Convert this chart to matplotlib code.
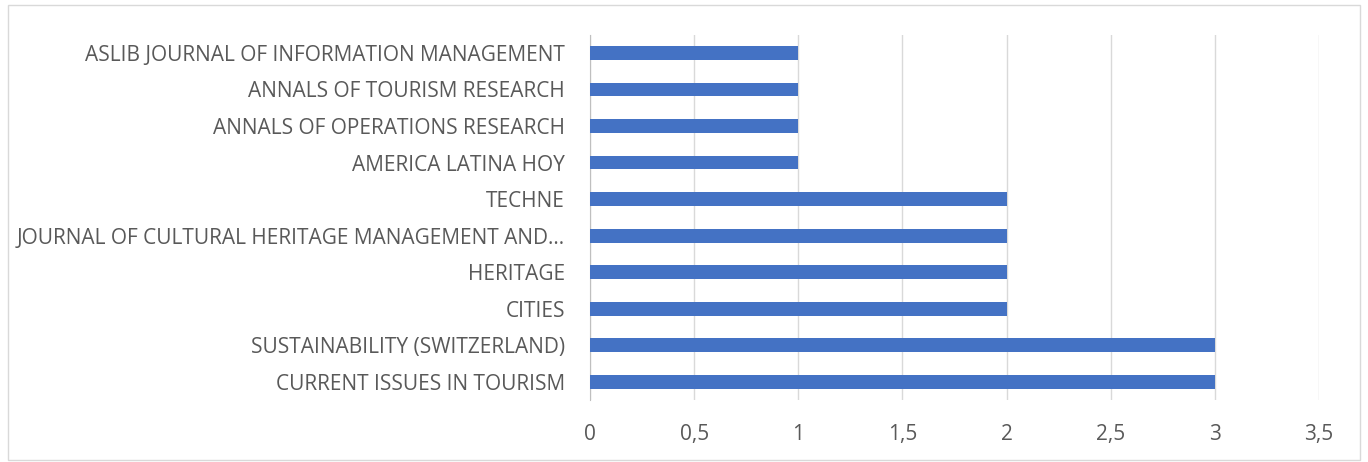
import matplotlib.pyplot as plt
from matplotlib.patches import Rectangle

# Journals (bottom to top) and document counts
journals = [
    "CURRENT ISSUES IN TOURISM",
    "SUSTAINABILITY (SWITZERLAND)",
    "CITIES",
    "HERITAGE",
    "JOURNAL OF CULTURAL HERITAGE MANAGEMENT AND...",
    "TECHNE",
    "AMERICA LATINA HOY",
    "ANNALS OF OPERATIONS RESEARCH",
    "ANNALS OF TOURISM RESEARCH",
    "ASLIB JOURNAL OF INFORMATION MANAGEMENT",
]
counts = [3, 3, 2, 2, 2, 2, 1, 1, 1, 1]
xticks = [0, 0.5, 1, 1.5, 2, 2.5, 3, 3.5]
xtick_labels = ["0", "0,5", "1", "1,5", "2", "2,5", "3", "3,5"]

plt.rcParams['font.family'] = ['Open Sans', 'DejaVu Sans']

fig = plt.figure(figsize=(13.68, 4.62), dpi=100)
ax = fig.add_axes([0.4313, 0.1342, 0.5329, 0.7907])

ax.barh(range(len(journals)), counts, height=0.38, color='#4472c4', zorder=3)

ax.set_xlim(0, 3.5)
ax.set_ylim(-0.5, len(journals) - 0.5)
ax.set_xticks(xticks)
ax.set_xticklabels(xtick_labels)
ax.set_yticks(range(len(journals)))
ax.set_yticklabels(journals)

ax.tick_params(axis='both', length=0, labelsize=15, labelcolor='#595959')
ax.tick_params(axis='y', pad=18)
ax.tick_params(axis='x', pad=17)

ax.grid(axis='x', color='#d9d9d9', linewidth=1, zorder=0)
for s in ['top', 'right', 'bottom']:
    ax.spines[s].set_visible(False)
ax.spines['left'].set_color('#bfbfbf')

# outer chart border
fig.patches.append(Rectangle((8 / 1368, 2 / 462), 1352 / 1368, 455 / 462,
                             transform=fig.transFigure, fill=False,
                             edgecolor='#d9d9d9', linewidth=1))

plt.savefig("out.png", dpi=100)
